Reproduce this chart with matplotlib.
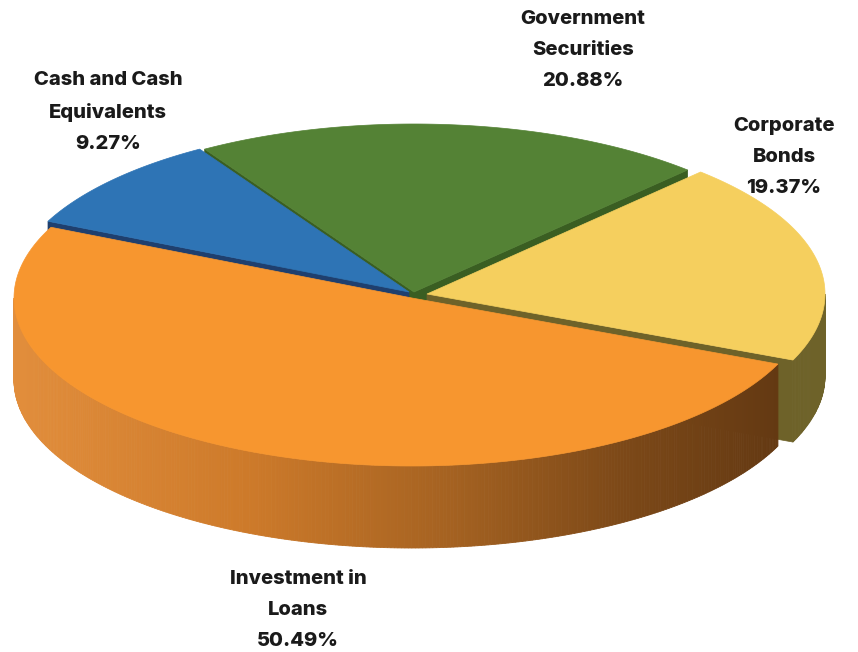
import numpy as np
import matplotlib
matplotlib.use("Agg")
import matplotlib.pyplot as plt
from matplotlib.patches import Polygon

# ---- data -------------------------------------------------------------
categories = ["Investment in\nLoans", "Corporate\nBonds",
              "Government\nSecurities", "Cash and Cash\nEquivalents"]
shares = [50.49, 19.37, 20.88, 9.27]

# ---- styling ----------------------------------------------------------
top_colors = ["#F7962F", "#F5CF5E", "#548235", "#2E74B5"]
side_colors = [None, "#6E6229", "#3A5E22", "#1F3F6E"]
explode_px = [(0, 0), (15, -4), (2, -6), (-3, -6)]
label_xy = [(298, 610), (784, 157), (583, 50), (108, 112)]

W, H = 858, 652
fig = plt.figure(figsize=(W / 100, H / 100), dpi=100)
ax = fig.add_axes([0, 0, 1, 1])
ax.set_xlim(0, W)
ax.set_ylim(H, 0)
ax.axis("off")

cx, cy = 412, 298      # centre of the top face
rx, ry = 398, 168      # ellipse radii of the top face
depth = 82             # thickness of the disc
start = 155.1          # angle where the first wedge begins


def pt(t, r, off, z):
    a = np.radians(t)
    return (cx + off[0] + r * rx * np.cos(a),
            cy + off[1] - r * ry * np.sin(a) + z * depth)


def orange_side(x):
    xs = [10, 250, 450, 620, 790]
    cs = np.array([[226, 142, 60], [205, 122, 42], [165, 98, 33],
                   [125, 73, 24], [98, 56, 18]]) / 255.0
    return tuple(np.interp(x, xs, cs[:, k]) for k in range(3))


def side_color(i, x):
    if i == 0:
        return orange_side(x)
    return side_colors[i]


total = sum(shares)
bounds = []
acc = start
for v in shares:
    a0 = acc
    a1 = acc + v / total * 360.0
    bounds.append((a0, a1))
    acc = a1

# draw order for walls: back (large sin of mid-angle) to front
mids = [(a0 + a1) / 2 for a0, a1 in bounds]
order = sorted(range(len(shares)), key=lambda i: -np.sin(np.radians(mids[i])))

for i in order:
    a0, a1 = bounds[i]
    off = explode_px[i]
    # radial cut faces facing the viewer
    faces = []
    if np.cos(np.radians(a0)) > 0:
        faces.append(a0)
    if np.cos(np.radians(a1)) < 0:
        faces.append(a1)
    for a in faces:
        poly = [pt(a, 0, off, 0), pt(a, 1, off, 0), pt(a, 1, off, 1), pt(a, 0, off, 1)]
        c = side_color(i, np.mean([p[0] for p in poly]))
        ax.add_patch(Polygon(poly, closed=True, facecolor=c, edgecolor=c, lw=0.5))
    # outer curved wall (front half only)
    for k in range(-1, 2):
        lo = max(a0, 180 + 360 * k)
        hi = min(a1, 360 + 360 * k)
        if hi <= lo:
            continue
        ts = np.linspace(lo, hi, max(2, int((hi - lo) * 2)))
        for t0, t1 in zip(ts[:-1], ts[1:]):
            poly = [pt(t0, 1, off, 0), pt(t1, 1, off, 0), pt(t1, 1, off, 1), pt(t0, 1, off, 1)]
            c = side_color(i, (poly[0][0] + poly[1][0]) / 2)
            ax.add_patch(Polygon(poly, closed=True, facecolor=c, edgecolor=c, lw=0.6))

# top faces
for i in order:
    a0, a1 = bounds[i]
    off = explode_px[i]
    ts = np.linspace(a0, a1, 200)
    poly = [pt(a0, 0, off, 0)] + [pt(t, 1, off, 0) for t in ts]
    ax.add_patch(Polygon(poly, closed=True, facecolor=top_colors[i],
                         edgecolor=top_colors[i], lw=0.5))

# labels
for name, v, (lx, ly) in zip(categories, shares, label_xy):
    ax.text(lx, ly, f"{name}\n{v:.2f}%", ha="center", va="center",
            multialignment="center", fontsize=14.5, fontweight=800,
            family=["Inter", "DejaVu Sans"], color="#1A1A1A", linespacing=1.95)

fig.savefig("out.png", dpi=100, facecolor="white")
